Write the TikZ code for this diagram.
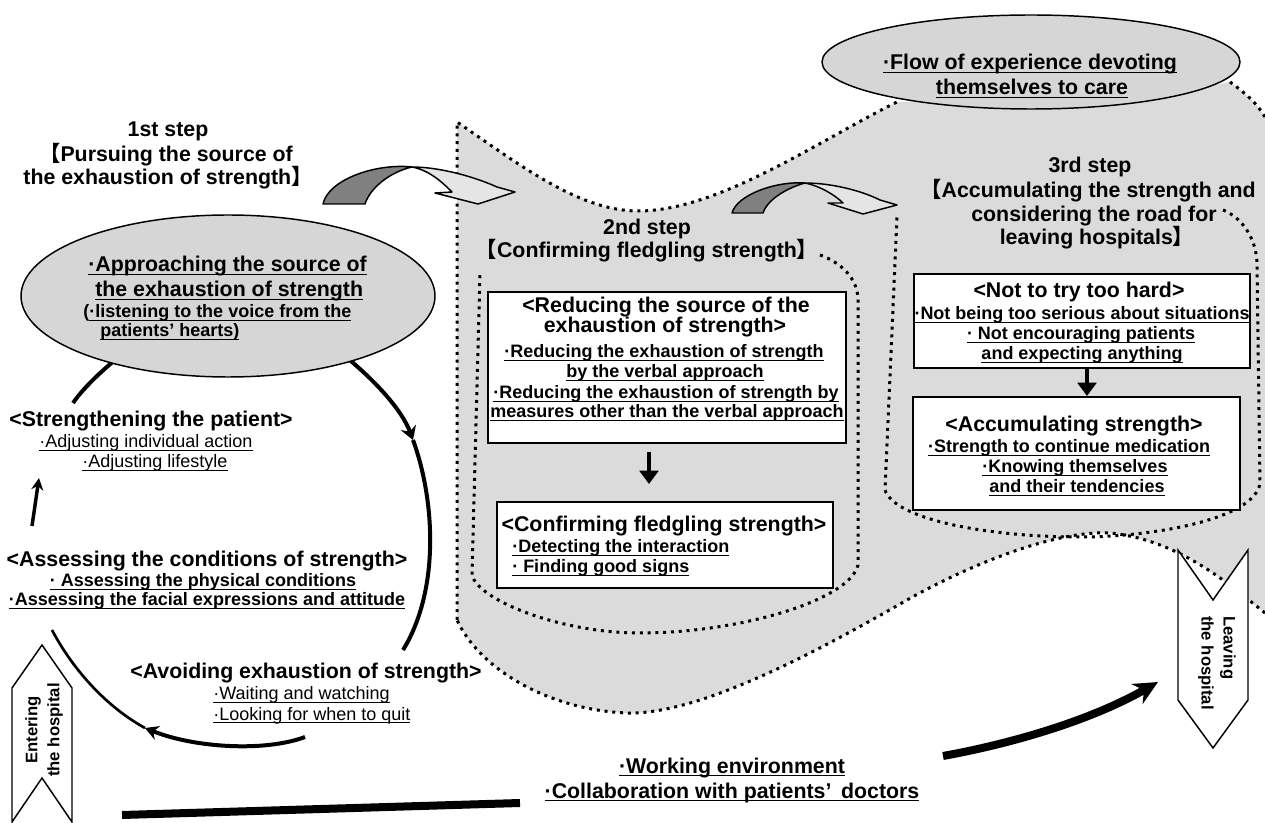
\documentclass[tikz,border=0pt]{standalone}
\usepackage{fontspec}
\setmainfont{Liberation Sans}
\newfontfamily\cjk{Noto Sans CJK JP}
\usetikzlibrary{arrows.meta,shapes.geometric}
\newsavebox{\udlbox}
\newcommand{\udl}[1]{\sbox{\udlbox}{#1}\rlap{\rule[-2.2pt]{\wd\udlbox}{0.9pt}}\usebox{\udlbox}}
\newcommand{\lb}{{\cjk 【}}
\newcommand{\rb}{{\cjk 】}}
\definecolor{rgn}{gray}{0.86}
\definecolor{ellf}{gray}{0.84}
\definecolor{darkf}{gray}{0.5}
\definecolor{frontf}{gray}{0.9}
\tikzset{
  ttl/.style={font=\fontsize{16}{19}\selectfont\bfseries, anchor=base, inner sep=0pt},
  blt/.style={font=\fontsize{13.5}{16}\selectfont\bfseries, anchor=base, inner sep=0pt},
  rgl/.style={font=\fontsize{13.5}{16}\selectfont, anchor=base, inner sep=0pt},
  dotl/.style={line width=2.25pt, dash pattern=on 2.25pt off 3.6pt},
  boxn/.style={draw, line width=1.1pt, fill=white, inner sep=0pt, rectangle},
  elln/.style={draw, line width=1.1pt, fill=ellf, ellipse, inner sep=0pt},
  circl/.style={line width=3pt},
  blk/.style={draw, line width=1.1pt, line join=round},
  chev/.style={draw, line width=1.1pt, fill=white},
  chevt/.style={font=\fontsize{12.5}{16.5}\selectfont\bfseries, inner sep=0pt}
}
\begin{document}
\begin{tikzpicture}[x=0.75pt,y=-0.75pt]
\useasboundingbox (0,0) rectangle (1265,823);
% shaded region
\fill[rgn] (457,122) .. controls (520,165) and (580,212) .. (640,211) .. controls (720,210) and (820,140) .. (897,102) -- (1031,100) -- (1180,92) -- (1230,82) .. controls (1248,95) and (1258,105) .. (1265,117) -- (1265,613) .. controls (1230,585) and (1180,540) .. (1110,533) .. controls (1050,530) and (960,570) .. (907,600) .. controls (820,650) and (700,715) .. (627,713) .. controls (550,710) and (480,670) .. (457,620) -- cycle;
% outer dotted outline
\draw[dotl] (457,620) -- (457,122) .. controls (520,165) and (580,212) .. (640,211) .. controls (720,210) and (820,140) .. (897,102);
\draw[dotl] (1230,82) .. controls (1248,95) and (1258,105) .. (1265,117);
\draw[dotl] (1265,613) .. controls (1230,585) and (1180,540) .. (1110,533) .. controls (1050,530) and (960,570) .. (907,600) .. controls (820,650) and (700,715) .. (627,713) .. controls (550,710) and (480,670) .. (457,620);
% 2nd step dotted outline
\draw[dotl] (820,255) .. controls (840,262) and (858,278) .. (858,300) -- (858,565) .. controls (850,600) and (740,633) .. (640,633) .. controls (560,633) and (478,600) .. (472,575) -- (480,273);
% 3rd step dotted outline
\draw[dotl] (1223,210) .. controls (1243,218) and (1257,240) .. (1257,265) -- (1260,483) .. controls (1255,520) and (1150,537) .. (1080,537) .. controls (990,537) and (895,520) .. (885,490) -- (897,217);
% top ellipse
\node[elln, minimum width=313.5pt, minimum height=70.5pt] (ell2) at (1031,62) {};
% boxes
\node[boxn, minimum width=268.5pt, minimum height=113.25pt] (box1) at (667,367.5) {};
\node[boxn, minimum width=252pt, minimum height=64.5pt] (box2) at (665,545) {};
\node[boxn, minimum width=252pt, minimum height=70.5pt] (box3a) at (1082,321) {};
\node[boxn, minimum width=245.25pt, minimum height=84.75pt] (box3b) at (1076.5,453.5) {};
\coordinate (d1a) at (649,452); \coordinate (d1b) at (649,484);
\coordinate (d2a) at (1087,367); \coordinate (d2b) at (1087,396);
\draw[line width=2.5pt, -{Triangle[length=10pt,width=14pt]}] (d1a) -- (d1b);
\draw[line width=2.5pt, -{Triangle[length=10pt,width=14pt]}] (d2a) -- (d2b);
% curved block arrows
\filldraw[blk, fill=darkf] (323,204) .. controls (328,180) and (375,163) .. (412,167) .. controls (390,172) and (370,188) .. (365,204) -- cycle;
\filldraw[blk, fill=frontf] (412,167) .. controls (440,167) and (475,177) .. (497,187) -- (515,192) -- (478,204) -- (435,193) -- (452,192) .. controls (440,180) and (428,170) .. (412,167) -- cycle;
\filldraw[blk, fill=darkf] (732,213) .. controls (737,195) and (775,181) .. (805,183) .. controls (790,187) and (768,198) .. (763,213) -- cycle;
\filldraw[blk, fill=frontf] (805,183) .. controls (830,183) and (860,190) .. (880,200) -- (897,205) -- (863,214) -- (828,203) -- (843,203) .. controls (835,195) and (820,186) .. (805,183) -- cycle;
% circular flow of 1st step
\draw[circl] (73,403) .. controls (82,390) and (97,375) .. (115,360);
\draw[circl, -{Stealth[length=10pt,width=12pt]}] (340,352) .. controls (375,380) and (402,410) .. (413,440);
\draw[circl] (413,440) .. controls (435,500) and (440,590) .. (403,650);
\draw[line width=2pt] (52,630) .. controls (72,668) and (105,706) .. (145,728);
\draw[circl, -{Stealth[length=10pt,width=11pt]}] (305,737) .. controls (265,752) and (195,748) .. (145,728);
\draw[line width=2.6pt, -{Stealth[length=9pt,width=9pt]}] (32,526) -- (39,478);
\node[elln, minimum width=310.5pt, minimum height=121.5pt] (ell1) at (228,296) {};
% chevrons
\draw[chev] (12,688) -- (42,645) -- (72,688) -- (72,822) -- (42,778) -- (12,822) -- cycle;
\draw[chev] (1178,550) -- (1213,600) -- (1248,550) -- (1248,700) -- (1213,748) -- (1178,700) -- cycle;
\node[chevt, rotate=90, align=center] (entt) at (44,730) {Entering\\the hospital};
\node[chevt, rotate=-90, align=left] (leat) at (1217,663) {Leaving\\the hospital};
% thick arrows
\coordinate (w1) at (122,815); \coordinate (w2) at (520,803);
\draw[line width=6pt] (w1) -- (w2);
\coordinate (w3) at (943,756); \coordinate (w4) at (1158,682);
\draw[line width=6pt, -{Stealth[length=18pt,width=17pt]}] (w3) .. controls (1020,742) and (1095,718) .. (w4);
% texts: step 1
\node[ttl] (s1a) at (168,137) {1st step};
\node[ttl] (s1b) at (166,162) {\lb Pursuing the source of};
\node[ttl] (s1c) at (168,185) {the exhaustion of strength\rb};
\node[ttl, anchor=base west] (e1a) at (88,272) {\udl{·Approaching the source of}};
\node[ttl, anchor=base west] (e1b) at (95,297) {\udl{the exhaustion of strength}};
\node[blt, anchor=base west] (e1c) at (83,318) {(\udl{·listening to the voice from the}};
\node[blt, anchor=base west] (e1d) at (100,337) {\udl{patients’ hearts)}};
\node[ttl] (st1) at (151,427) {<Strengthening the patient>};
\node[rgl] (st2) at (146,448) {\udl{·Adjusting individual action}};
\node[rgl] (st3) at (155,468) {\udl{·Adjusting lifestyle}};
\node[ttl] (as1) at (207,567) {<Assessing the conditions of strength>};
\node[blt] (as2) at (203,587) {\udl{· Assessing the physical conditions}};
\node[blt] (as3) at (207,606) {\udl{·Assessing the facial expressions and attitude}};
\node[ttl] (av1) at (306,678) {<Avoiding exhaustion of strength>};
\node[rgl, anchor=base west] (av2) at (213,700) {\udl{·Waiting and watching}};
\node[rgl, anchor=base west] (av3) at (213,720) {\udl{·Looking for when to quit}};
% step 2
\node[ttl] (s2a) at (647,235) {2nd step};
\node[ttl] (s2b) at (647,258) {\lb Confirming fledgling strength\rb};
\node[ttl] (b1a) at (666,313) {<Reducing the source of the};
\node[ttl] (b1b) at (665,333) {exhaustion of strength>};
\node[blt] (b1c) at (664,358) {\udl{·Reducing the exhaustion of strength}};
\node[blt] (b1d) at (665,378) {\udl{by the verbal approach}};
\node[blt] (b1e) at (666,399) {\udl{·Reducing the exhaustion of strength by}};
\node[blt] (b1f) at (667,418) {\udl{measures other than the verbal approach}};
\node[ttl] (b2a) at (664,532) {<Confirming fledgling strength>};
\node[blt, anchor=base west] (b2b) at (512,553) {\udl{·Detecting the interaction}};
\node[blt, anchor=base west] (b2c) at (512,573) {\udl{· Finding good signs}};
% step 3
\node[ttl] (s3a) at (1090,173) {3rd step};
\node[ttl] (s3b) at (1088,198) {\lb Accumulating the strength and};
\node[ttl] (s3c) at (1094,222) {considering the road for};
\node[ttl] (s3d) at (1097,245) {leaving hospitals\rb};
\node[ttl] (c1a) at (1079,298) {<Not to try too hard>};
\node[blt] (c1b) at (1082,320) {\udl{·Not being too serious about situations}};
\node[blt] (c1c) at (1081,340) {\udl{· Not encouraging patients}};
\node[blt] (c1d) at (1082,360) {\udl{and expecting anything}};
\node[ttl] (c2a) at (1074,432) {<Accumulating strength>};
\node[blt] (c2b) at (1069,453) {\udl{·Strength to continue medication}};
\node[blt] (c2c) at (1075,473) {\udl{·Knowing themselves}};
\node[blt] (c2d) at (1077,493) {\udl{and their tendencies}};
% top ellipse text
\node[ttl] (t1) at (1030,70) {\udl{·Flow of experience devoting}};
\node[ttl] (t2) at (1032,95) {\udl{themselves to care}};
% bottom text
\node[ttl] (bt1) at (732,773) {\udl{·Working environment}};
\node[ttl] (bt2) at (732,798) {\udl{·Collaboration with patients’\hspace{0.45em}doctors}};
\end{tikzpicture}
\end{document}
